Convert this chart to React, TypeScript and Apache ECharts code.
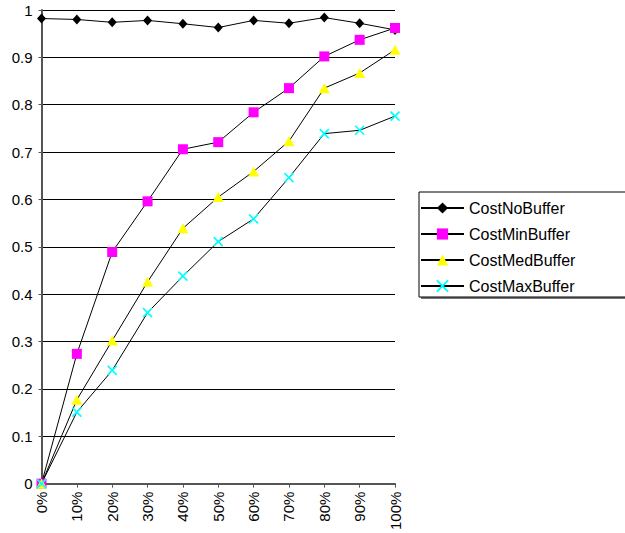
import React, { useEffect, useRef } from "react";
import * as echarts from "echarts";

const categories = ["0%", "10%", "20%", "30%", "40%", "50%", "60%", "70%", "80%", "90%", "100%"];
const seriesNames = ["CostNoBuffer", "CostMinBuffer", "CostMedBuffer", "CostMaxBuffer"];
const costNoBuffer = [0.982, 0.98, 0.974, 0.978, 0.971, 0.963, 0.978, 0.972, 0.984, 0.972, 0.958];
const costMinBuffer = [0, 0.274, 0.489, 0.596, 0.706, 0.721, 0.784, 0.835, 0.902, 0.937, 0.962];
const costMedBuffer = [0, 0.177, 0.302, 0.426, 0.539, 0.605, 0.659, 0.723, 0.835, 0.867, 0.916];
const costMaxBuffer = [0, 0.151, 0.239, 0.361, 0.438, 0.511, 0.559, 0.646, 0.739, 0.746, 0.776];

const FONT = "'Liberation Sans', Arial, sans-serif";
const CROSS = "path://M0,0L10,10M10,0L0,10";

export default function App() {
  const ref = useRef<HTMLDivElement>(null);

  useEffect(() => {
    if (!ref.current) return;
    const chart = echarts.init(ref.current, undefined, { renderer: "svg" });

    const mk = (
      name: string,
      data: number[],
      symbol: string,
      symbolSize: number | number[],
      color: string,
      stroke?: boolean
    ) => ({
      name,
      type: "line",
      data,
      symbol,
      symbolSize,
      showAllSymbol: true,
      lineStyle: { color: "#000", width: 1 },
      itemStyle: stroke
        ? { color: color, borderColor: color, borderWidth: 1.6 }
        : { color: color, borderWidth: 0 },
      emphasis: { disabled: true },
    });

    chart.setOption({
      animation: false,
      backgroundColor: "#fff",
      textStyle: { fontFamily: FONT },
      grid: { left: 41.5, right: 230, top: 10, bottom: 47 },
      legend: {
        orient: "vertical",
        left: 420,
        top: 195,
        padding: [5, 4, 5, 0],
        itemWidth: 43,
        itemHeight: 14,
        itemGap: 10,
        data: seriesNames,
        textStyle: { fontFamily: FONT, fontSize: 16, color: "#000" },
      },
      graphic: [
        {
          type: "rect",
          z: 1,
          shape: { x: 421, y: 194, width: 220, height: 105 },
          style: { fill: "#777" },
        },
        {
          type: "rect",
          z: 2,
          shape: { x: 419, y: 192, width: 220, height: 105 },
          style: { fill: "#fff", stroke: "#000", lineWidth: 1 },
        },
      ],
      xAxis: {
        type: "category",
        data: categories,
        boundaryGap: false,
        axisLine: { lineStyle: { color: "#555", width: 2 } },
        axisTick: { show: true, length: 4, lineStyle: { color: "#555" } },
        axisLabel: {
          rotate: 90,
          margin: 8,
          fontFamily: FONT,
          fontSize: 15,
          color: "#000",
          interval: 0,
        },
        splitLine: { show: false },
      },
      yAxis: {
        type: "value",
        min: 0,
        max: 1,
        interval: 0.1,
        axisLine: { show: true, lineStyle: { color: "#555", width: 2 } },
        axisTick: { show: true, length: 3, lineStyle: { color: "#555" } },
        axisLabel: { margin: 9, fontFamily: FONT, fontSize: 15, color: "#000" },
        splitLine: { show: true, lineStyle: { color: "#000", width: 1 } },
      },
      series: [
        mk(seriesNames[0], costNoBuffer, "diamond", [9, 10], "#000"),
        mk(seriesNames[1], costMinBuffer, "rect", 10, "#FF00FF"),
        mk(seriesNames[2], costMedBuffer, "triangle", [11, 10], "#FFFF00"),
        mk(seriesNames[3], costMaxBuffer, CROSS, 9, "#00FFFF", true),
      ],
    });

    return () => chart.dispose();
  }, []);

  return (
    <div
      ref={ref}
      style={{ position: "absolute", left: 0, top: 0, width: 625, height: 533 }}
    />
  );
}
